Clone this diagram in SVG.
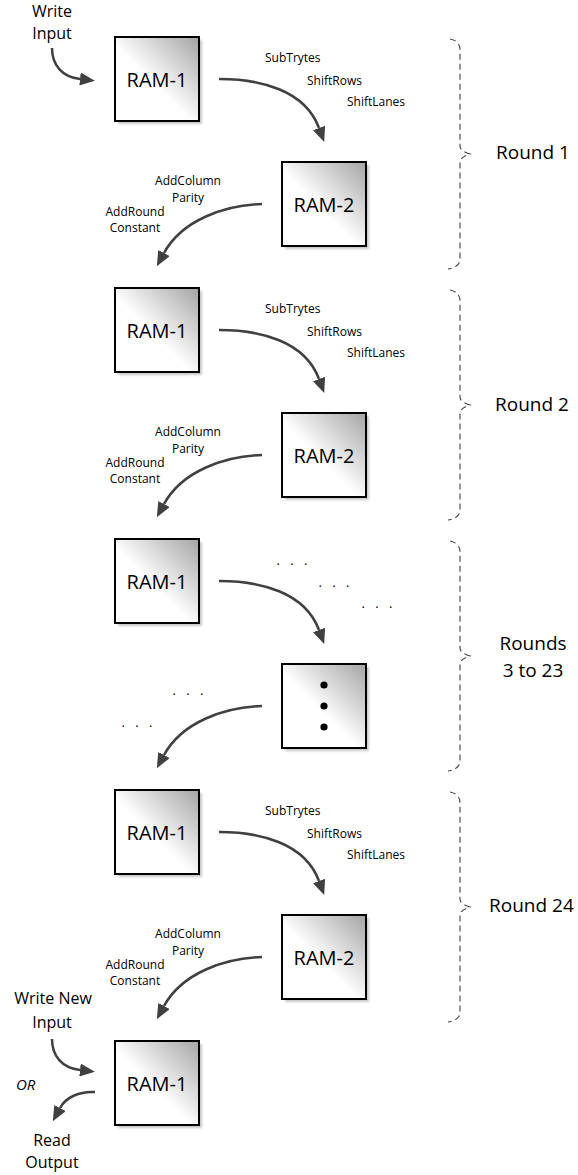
<svg xmlns="http://www.w3.org/2000/svg" width="578" height="1175" viewBox="0 0 578 1175">
  <defs>
    <linearGradient id="boxFill" x1="0" y1="1" x2="1" y2="0">
      <stop offset="0" stop-color="#ffffff"/>
      <stop offset="0.45" stop-color="#ffffff"/>
      <stop offset="1" stop-color="#a4a4a4"/>
    </linearGradient>
    <filter id="soft" x="-10%" y="-10%" width="130%" height="130%">
      <feGaussianBlur stdDeviation="1"/>
    </filter>
    <marker id="head" markerUnits="userSpaceOnUse" markerWidth="15" markerHeight="13" viewBox="0 0 15 13" refX="0" refY="6.5" orient="auto">
      <path d="M0,0 L15,6.5 L0,13 Z" fill="#404040"/>
    </marker>
    <rect id="box" width="84" height="84"/>
  </defs>
  <style>
    .shadow { fill: #c8c8c8; filter: url(#soft); }
    .node { fill: url(#boxFill); stroke: #000; stroke-width: 2; }
    .ram { font-family: "Open Sans", "Liberation Sans", sans-serif; font-size: 20px; fill: #000; text-anchor: middle; }
    .io { font-family: "Open Sans", "Liberation Sans", sans-serif; font-size: 16px; fill: #000; text-anchor: middle; }
    .op { font-family: "Open Sans", "Liberation Sans", sans-serif; font-size: 12px; fill: #000; }
    .mid { text-anchor: middle; }
    .round { font-family: "Open Sans", "Liberation Sans", sans-serif; font-size: 19px; fill: #000; }
    .dots { font-family: "Open Sans", "Liberation Sans", sans-serif; font-size: 13px; fill: #000; text-anchor: middle; word-spacing: 7px; }
    .arrow { fill: none; stroke: #404040; stroke-width: 2.5; marker-end: url(#head); }
    .brace { fill: none; stroke: #404040; stroke-width: 1.1; stroke-dasharray: 6 4; }
  </style>

  <!-- memory blocks: RAM-1 on the left, RAM-2 on the right -->
  <g id="ram1-r1"><use href="#box" x="118" y="40" class="shadow"/><use href="#box" x="115" y="37" class="node"/><text x="157" y="87" class="ram">RAM-1</text></g>
  <g id="ram2-r1"><use href="#box" x="285" y="165" class="shadow"/><use href="#box" x="282" y="162" class="node"/><text x="324" y="212" class="ram">RAM-2</text></g>
  <g id="ram1-r2"><use href="#box" x="118" y="291" class="shadow"/><use href="#box" x="115" y="288" class="node"/><text x="157" y="338" class="ram">RAM-1</text></g>
  <g id="ram2-r2"><use href="#box" x="285" y="416" class="shadow"/><use href="#box" x="282" y="413" class="node"/><text x="324" y="463" class="ram">RAM-2</text></g>
  <g id="ram1-r3"><use href="#box" x="118" y="542" class="shadow"/><use href="#box" x="115" y="539" class="node"/><text x="157" y="589" class="ram">RAM-1</text></g>
  <g id="ram-mid"><use href="#box" x="285" y="667" class="shadow"/><use href="#box" x="282" y="664" class="node"/>
    <circle cx="324" cy="685" r="3.6" fill="#000"/><circle cx="324" cy="706" r="3.6" fill="#000"/><circle cx="324" cy="727" r="3.6" fill="#000"/></g>
  <g id="ram1-r24"><use href="#box" x="118" y="793" class="shadow"/><use href="#box" x="115" y="790" class="node"/><text x="157" y="840" class="ram">RAM-1</text></g>
  <g id="ram2-r24"><use href="#box" x="285" y="918" class="shadow"/><use href="#box" x="282" y="915" class="node"/><text x="324" y="965" class="ram">RAM-2</text></g>
  <g id="ram1-out"><use href="#box" x="118" y="1044" class="shadow"/><use href="#box" x="115" y="1041" class="node"/><text x="157" y="1091" class="ram">RAM-1</text></g>

  <!-- data flow -->
  <g id="connectors">
    <path class="arrow" d="M52 48 C52 65 62 77 80 79"/>
    <path class="arrow" d="M219 79 C260 79 305 90 319 128"/>
    <path class="arrow" d="M262 204 C225 205 182 220 164 253"/>
    <path class="arrow" d="M219 330 C260 330 305 341 319 379"/>
    <path class="arrow" d="M262 455 C225 456 182 471 164 504"/>
    <path class="arrow" d="M219 581 C260 581 305 592 319 630"/>
    <path class="arrow" d="M262 706 C225 707 182 722 164 755"/>
    <path class="arrow" d="M219 832 C260 832 305 843 319 881"/>
    <path class="arrow" d="M262 957 C225 958 182 973 164 1006"/>
    <path class="arrow" d="M52 1039 C52 1056 62 1068 80 1070"/>
    <path class="arrow" d="M95 1092 C80 1091 66 1097 60 1108"/>
  </g>

  <!-- step labels -->
  <g id="labels-r1">
    <text x="265" y="62" class="op">SubTrytes</text>
    <text x="307" y="85" class="op">ShiftRows</text>
    <text x="347" y="106" class="op">ShiftLanes</text>
    <text x="188" y="185" class="op mid">AddColumn</text>
    <text x="188" y="202" class="op mid">Parity</text>
    <text x="135" y="216" class="op mid">AddRound</text>
    <text x="135" y="232" class="op mid">Constant</text>
  </g>
  <g id="labels-r2">
    <text x="265" y="313" class="op">SubTrytes</text>
    <text x="307" y="336" class="op">ShiftRows</text>
    <text x="347" y="357" class="op">ShiftLanes</text>
    <text x="188" y="436" class="op mid">AddColumn</text>
    <text x="188" y="453" class="op mid">Parity</text>
    <text x="135" y="467" class="op mid">AddRound</text>
    <text x="135" y="483" class="op mid">Constant</text>
  </g>
  <g id="labels-r3">
    <text x="292" y="565" class="dots">. . .</text>
    <text x="334" y="587" class="dots">. . .</text>
    <text x="377" y="608" class="dots">. . .</text>
    <text x="188" y="695" class="dots">. . .</text>
    <text x="137" y="727" class="dots">. . .</text>
  </g>
  <g id="labels-r24">
    <text x="265" y="815" class="op">SubTrytes</text>
    <text x="307" y="838" class="op">ShiftRows</text>
    <text x="347" y="859" class="op">ShiftLanes</text>
    <text x="188" y="938" class="op mid">AddColumn</text>
    <text x="188" y="955" class="op mid">Parity</text>
    <text x="135" y="969" class="op mid">AddRound</text>
    <text x="135" y="985" class="op mid">Constant</text>
  </g>

  <!-- input / output notes -->
  <g id="io-in">
    <text x="52" y="17" class="io">Write</text>
    <text x="52" y="39" class="io">Input</text>
  </g>
  <g id="io-final">
    <text x="53" y="1004" class="io">Write New</text>
    <text x="52" y="1028" class="io">Input</text>
    <text x="16" y="1090" font-family="'Open Sans', 'Liberation Sans', sans-serif" font-size="15" font-style="italic" fill="#000">OR</text>
    <text x="52" y="1146" class="io">Read</text>
    <text x="52" y="1168" class="io">Output</text>
  </g>

  <!-- round brackets -->
  <g id="round-1">
    <path class="brace" d="M450 39 Q460 41 460 50 L460 146 Q460 151 470 154 Q460 157 460 162 L460 259 Q460 267 448 269"/>
    <text x="496" y="159" class="round">Round 1</text>
  </g>
  <g id="round-2">
    <path class="brace" d="M450 290 Q460 292 460 301 L460 397 Q460 402 470 405 Q460 408 460 413 L460 510 Q460 518 448 520"/>
    <text x="495" y="411" class="round">Round 2</text>
  </g>
  <g id="round-3-23">
    <path class="brace" d="M450 541 Q460 543 460 552 L460 648 Q460 653 470 656 Q460 659 460 664 L460 761 Q460 769 448 771"/>
    <text x="533" y="650" class="round mid" text-anchor="middle">Rounds</text>
    <text x="533" y="677" class="round" text-anchor="middle">3 to 23</text>
  </g>
  <g id="round-24">
    <path class="brace" d="M450 792 Q460 794 460 803 L460 899 Q460 904 470 907 Q460 910 460 915 L460 1012 Q460 1020 448 1022"/>
    <text x="489" y="912" class="round">Round 24</text>
  </g>
</svg>
